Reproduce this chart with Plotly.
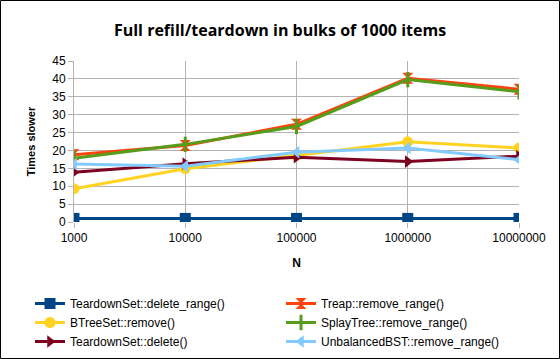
import plotly.graph_objects as go

categories = ["1000", "10000", "100000", "1000000", "10000000"]
delete_range = [1.0, 1.0, 1.0, 1.0, 1.0]
btree_remove = [9.3, 14.9, 18.6, 22.4, 20.7]
teardown_delete = [13.9, 16.3, 18.1, 16.9, 18.4]
treap_remove_range = [18.8, 21.4, 27.3, 40.2, 37.1]
splay_remove_range = [17.8, 21.7, 26.7, 39.8, 36.4]
unbalanced_remove_range = [16.2, 15.6, 19.5, 20.7, 17.4]

series = [
    ("TeardownSet::delete_range()", delete_range, "#004586", "square", 1),
    ("BTreeSet::remove()", btree_remove, "#ffd320", "circle", 3),
    ("TeardownSet::delete()", teardown_delete, "#7e0021", "triangle-right", 5),
    ("Treap::remove_range()", treap_remove_range, "#ff420e", "hourglass", 2),
    ("SplayTree::remove_range()", splay_remove_range, "#579d1c", "line-ns", 4),
    ("UnbalancedBST::remove_range()", unbalanced_remove_range, "#83caff", "triangle-left", 6),
]

fig = go.Figure()
for name, vals, color, sym, rank in series:
    marker = dict(symbol=sym, size=11, color=color, line=dict(width=0, color=color))
    if sym == "line-ns":
        marker = dict(symbol=sym, size=11, color=color, line=dict(width=3, color=color))
    fig.add_trace(go.Scatter(
        x=categories, y=vals, name=name, mode="lines+markers",
        line=dict(color=color, width=3), marker=marker, legendrank=rank,
    ))

W, H = 560, 359
ml, mr, mt, mb = 74, 41, 61, 137
pw, ph = W - ml - mr, H - mt - mb

fig.update_layout(
    width=W, height=H,
    margin=dict(l=ml, r=mr, t=mt, b=mb, autoexpand=False),
    paper_bgcolor="white", plot_bgcolor="white",
    font=dict(family="Liberation Sans, Arial, sans-serif", size=12, color="#000000"),
    title=dict(text="<b>Full refill/teardown in bulks of 1000 items</b>",
               x=0.5, xanchor="center", y=1 - 30 / H, yanchor="middle",
               font=dict(family="Open Sans, DejaVu Sans, sans-serif", size=16, color="#000000")),
    showlegend=True,
    legend=dict(orientation="h", x=-(ml - 30) / pw, xanchor="left",
                y=(H - mb - 289) / ph, yanchor="top",
                entrywidth=206, entrywidthmode="pixels", itemwidth=30,
                tracegroupgap=0, font=dict(size=12), traceorder="normal",
                bgcolor="rgba(0,0,0,0)"),
    xaxis=dict(type="category", range=[0, 4], showgrid=True, gridcolor="#b3b3b3",
               gridwidth=1, ticks="outside", ticklen=5, tickcolor="#b3b3b3",
               showline=False, zeroline=False, automargin=False,
               title=dict(text="<b>N</b>", font=dict(size=12), standoff=14),
               tickfont=dict(size=12)),
    yaxis=dict(range=[0, 45], dtick=5, showgrid=True, gridcolor="#b3b3b3",
               gridwidth=1, ticks="outside", ticklen=5, tickcolor="#b3b3b3",
               showline=True, linecolor="#b3b3b3", zeroline=False, automargin=False,
               title=dict(text="<b>Times slower</b>", font=dict(size=11), standoff=14),
               tickfont=dict(size=12)),
    shapes=[dict(type="rect", xref="paper", yref="paper",
                 x0=(-ml + 0.5) / pw, x1=(W - ml - 0.5) / pw,
                 y0=(-mb + 0.5) / ph, y1=(H - mb - 0.5) / ph,
                 line=dict(color="black", width=1), fillcolor="rgba(0,0,0,0)", layer="above")],
)

fig.write_html("out.html", config={"displayModeBar": False},
               post_script="document.body.style.margin='0';document.body.style.overflow='hidden';")
